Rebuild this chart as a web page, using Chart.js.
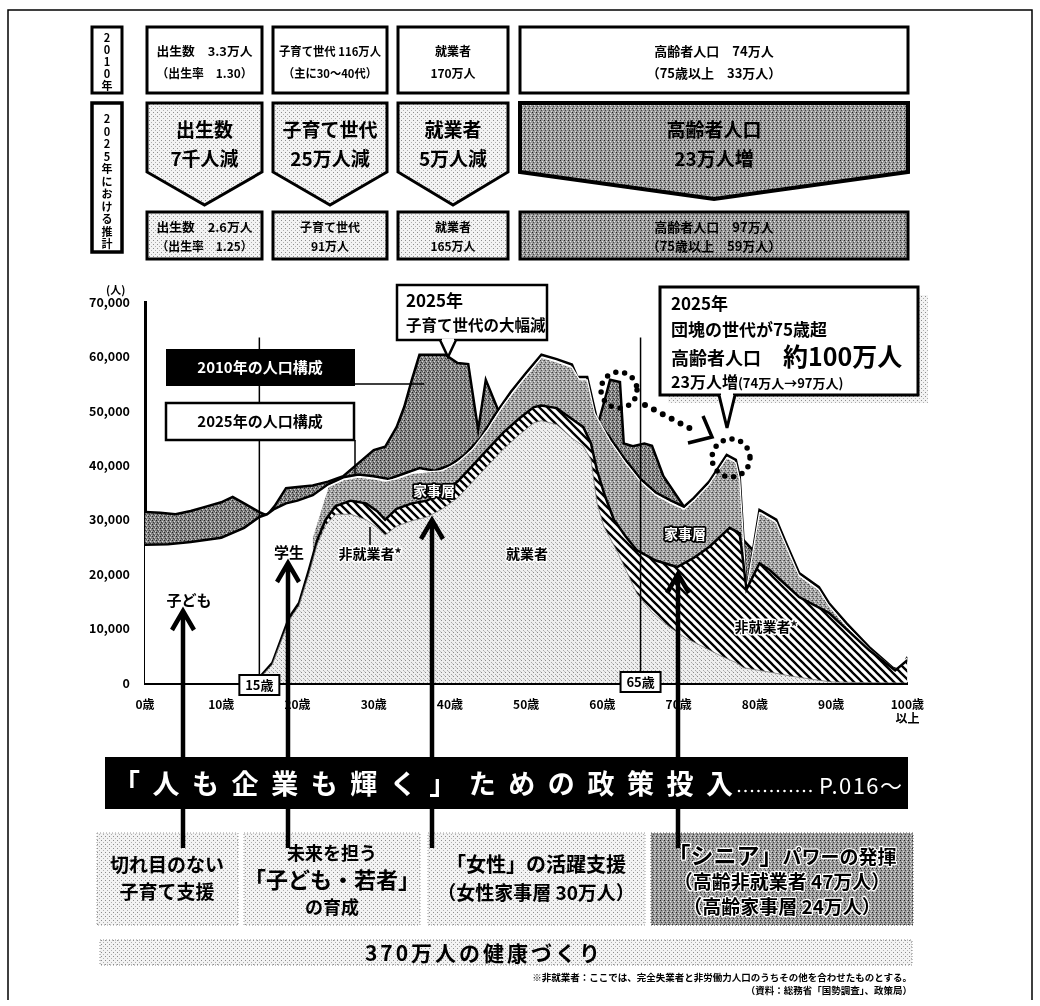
<!DOCTYPE html>
<html>
<head>
<meta charset="utf-8">
<script src="https://cdn.jsdelivr.net/npm/chart.js@4.4.0/dist/chart.umd.min.js"></script>
<style>
body { margin: 0; background: #fff; }
#page { position: relative; width: 1040px; height: 1006px; overflow: hidden; font-family: "Noto Sans CJK JP", sans-serif; }
#wrap { position: absolute; left: 60px; top: 280px; width: 870px; height: 445px; }
#ov { position: absolute; left: 0; top: 0; }
#ov text { font-family: "Noto Sans CJK JP", sans-serif; font-weight: bold; }
</style>
</head>
<body>
<div id="page">
<div id="wrap"><canvas id="pyramid"></canvas></div>
<svg id="ov" width="1040" height="1006">
  <defs>
    <pattern id="pLight" width="4" height="4" patternUnits="userSpaceOnUse">
      <rect width="4" height="4" fill="#f3f3f3"/>
      <rect x="1" y="0" width="1" height="1" fill="#8c8c8c"/>
      <rect x="3" y="2" width="1" height="1" fill="#b0b0b0"/>
    </pattern>
    <pattern id="pDark" width="4" height="4" patternUnits="userSpaceOnUse">
      <rect width="4" height="4" fill="#9a9a9a"/>
      <rect x="0" y="0" width="1" height="1" fill="#222"/>
      <rect x="2" y="1" width="1" height="1" fill="#e8e8e8"/>
      <rect x="1" y="2" width="1" height="1" fill="#444"/>
      <rect x="3" y="3" width="1" height="1" fill="#dadada"/>
    </pattern>
  </defs>

  <!-- frame -->
  <path d="M8 1000 V10 H1032 V1000" fill="none" stroke="#000" stroke-width="1.5"/>

  <!-- side labels -->
  <rect x="92" y="27" width="30" height="66" fill="#fff" stroke="#000" stroke-width="3"/>
  <text font-size="11" text-anchor="middle">
    <tspan x="107" y="42">2</tspan><tspan x="107" y="54">0</tspan><tspan x="107" y="66">1</tspan><tspan x="107" y="78">0</tspan><tspan x="107" y="90">年</tspan>
  </text>
  <rect x="92" y="103" width="30" height="149" fill="#fff" stroke="#000" stroke-width="3.5"/>
  <text font-size="11" text-anchor="middle">
    <tspan x="107" y="123">2</tspan><tspan x="107" y="135.5">0</tspan><tspan x="107" y="148">2</tspan><tspan x="107" y="160.5">5</tspan><tspan x="107" y="173">年</tspan><tspan x="107" y="185.5">に</tspan><tspan x="107" y="198">お</tspan><tspan x="107" y="210.5">け</tspan><tspan x="107" y="223">る</tspan><tspan x="107" y="235.5">推</tspan><tspan x="107" y="248">計</tspan>
  </text>

  <!-- 2010 row -->
  <g fill="#fff" stroke="#000" stroke-width="3">
    <rect x="147" y="27" width="115" height="66"/>
    <rect x="273" y="27" width="114" height="66"/>
    <rect x="398" y="27" width="110" height="66"/>
    <rect x="520" y="27" width="388" height="66"/>
  </g>
  <g font-size="12" text-anchor="middle">
    <text x="204.5" y="56" textLength="96" lengthAdjust="spacingAndGlyphs">出生数　3.3万人</text><text x="204.5" y="78" textLength="96" lengthAdjust="spacingAndGlyphs">（出生率　1.30）</text>
    <text x="330" y="56" textLength="102" lengthAdjust="spacingAndGlyphs">子育て世代 116万人</text><text x="330" y="78" textLength="94" lengthAdjust="spacingAndGlyphs">（主に30〜40代）</text>
    <text x="453" y="56">就業者</text><text x="453" y="78">170万人</text>
    <text x="714" y="56" font-size="13">高齢者人口　74万人</text><text x="714" y="78" font-size="13">（75歳以上　33万人）</text>
  </g>

  <!-- change arrows -->
  <g stroke="#000" stroke-width="3" stroke-linejoin="miter">
    <polygon points="147,103 262,103 262,172 204.5,205 147,172" fill="url(#pLight)"/>
    <polygon points="273,103 387,103 387,172 330,205 273,172" fill="url(#pLight)"/>
    <polygon points="398,103 508,103 508,172 453,205 398,172" fill="url(#pLight)"/>
    <polygon points="520,103 908,103 908,172 714,199 520,172" fill="url(#pDark)" stroke-width="4"/>
  </g>
  <g font-size="19" text-anchor="middle">
    <text x="204.5" y="137">出生数</text><text x="204.5" y="166">7千人減</text>
    <text x="330" y="137">子育て世代</text><text x="330" y="166">25万人減</text>
    <text x="453" y="137">就業者</text><text x="453" y="166">5万人減</text>
    <text x="714" y="137">高齢者人口</text><text x="714" y="166">23万人増</text>
  </g>

  <!-- 2025 row -->
  <g stroke="#000" stroke-width="3">
    <rect x="147" y="212" width="115" height="47" fill="url(#pLight)"/>
    <rect x="273" y="212" width="114" height="47" fill="url(#pLight)"/>
    <rect x="398" y="212" width="110" height="47" fill="url(#pLight)"/>
    <rect x="520" y="212" width="388" height="47" fill="url(#pDark)"/>
  </g>
  <g font-size="12" text-anchor="middle">
    <text x="204.5" y="232" textLength="96" lengthAdjust="spacingAndGlyphs">出生数　2.6万人</text><text x="204.5" y="251" textLength="96" lengthAdjust="spacingAndGlyphs">（出生率　1.25）</text>
    <text x="330" y="232">子育て世代</text><text x="330" y="251">91万人</text>
    <text x="453" y="232">就業者</text><text x="453" y="251">165万人</text>
    <text x="714" y="232" font-size="13">高齢者人口　97万人</text><text x="714" y="251" font-size="13">（75歳以上　59万人）</text>
  </g>

  <!-- axis unit -->
  <text x="106" y="294" font-size="11">(人)</text>

  <!-- legend boxes -->
  <path d="M355 384 H424 M355 440 V474" stroke="#000" stroke-width="1.5" fill="none"/>
  <rect x="166" y="349" width="189" height="37" fill="#000"/>
  <text x="260" y="373" font-size="15" fill="#fff" text-anchor="middle">2010年の人口構成</text>
  <rect x="166" y="403" width="188" height="37" fill="#fff" stroke="#000" stroke-width="2.5"/>
  <text x="260" y="427" font-size="15" text-anchor="middle">2025年の人口構成</text>

  <!-- callout: child-rearing generation -->
  <rect x="397" y="285" width="150" height="55" fill="#fff" stroke="#000" stroke-width="2.5"/>
  <path d="M440 340 L448 357 L456 340" fill="#fff" stroke="#000" stroke-width="2.5"/>
  <path d="M442 340 H454" stroke="#fff" stroke-width="3"/>
  <text x="406" y="307" font-size="17">2025年</text>
  <text x="406" y="331" font-size="15.5">子育て世代の大幅減</text>

  <!-- callout: baby boomers -->
  <rect x="668" y="295" width="260" height="108" fill="url(#pLight)"/>
  <rect x="660" y="287" width="258" height="108" fill="#fff" stroke="#000" stroke-width="3"/>
  <path d="M719 395 L727 428 L735 395" fill="#fff" stroke="#000" stroke-width="3"/>
  <path d="M721 395 H733" stroke="#fff" stroke-width="4"/>
  <text x="671" y="310" font-size="17">2025年</text>
  <text x="671" y="336" font-size="17">団塊の世代が75歳超</text>
  <text x="671" y="365" font-size="18">高齢者人口</text>
  <text x="783" y="366" font-size="25">約100万人</text>
  <text x="671" y="388" font-size="16">23万人増<tspan font-size="13">(74万人→97万人)</tspan></text>

  <!-- dotted highlights -->
  <g fill="none" stroke="#000" stroke-linecap="round">
    <circle cx="619" cy="390" r="18" stroke-width="5.5" stroke-dasharray="0 9"/>
    <circle cx="731" cy="458" r="19" stroke-width="5.5" stroke-dasharray="0 9"/>
    <path d="M645 405 L697 432" stroke-width="6" stroke-dasharray="0 10"/>
    <path d="M703 416 L712 437 L688 443" stroke-width="3.5" stroke-linecap="butt"/>
  </g>

  <!-- in-chart labels -->
  <g font-size="15" text-anchor="middle" stroke="#fff" stroke-width="3" paint-order="stroke" stroke-linejoin="round">
    <text x="189" y="606">子ども</text>
    <text x="289" y="558">学生</text>
    <text x="370" y="559" font-size="14">非就業者*</text>
    <text x="527" y="559" font-size="14">就業者</text>
    <text x="766" y="632" font-size="14">非就業者*</text>
  </g>
  <path d="M370 527 V545" stroke="#000" stroke-width="1.5"/>
  <g font-size="14" text-anchor="middle" fill="#fff" stroke="#000" stroke-width="3.5" paint-order="stroke" stroke-linejoin="round">
    <text x="434" y="496">家事層</text>
    <text x="685" y="539">家事層</text>
  </g>

  <!-- policy boxes -->
  <g stroke="#999" stroke-width="1" stroke-dasharray="1 2">
    <rect x="97" y="833" width="141" height="92" fill="url(#pLight)"/>
    <rect x="244" y="833" width="176" height="92" fill="url(#pLight)"/>
    <rect x="428" y="833" width="217" height="92" fill="url(#pLight)"/>
    <rect x="651" y="833" width="262" height="92" fill="url(#pDark)" stroke="#555"/>
  </g>

  <!-- arrows -->
  <g fill="none" stroke="#000" stroke-width="4.5">
    <path d="M183 848 V612 M172 630 L183 611 L194 630"/>
    <path d="M288 848 V564 M277 582 L288 563 L299 582"/>
    <path d="M432 848 V521 M421 539 L432 520 L443 539"/>
    <path d="M678 848 V575 M667 593 L678 574 L689 593"/>
  </g>

  <!-- banner -->
  <rect x="105" y="757" width="803" height="52" fill="#000"/>
  <text x="113" y="794" font-size="27" fill="#fff" textLength="620" lengthAdjust="spacing">「人も企業も輝く」ための政策投入</text>
  <path d="M739 791 H815" stroke="#fff" stroke-width="2.6" stroke-linecap="round" stroke-dasharray="0 6.5"/>
  <text x="819" y="794" font-size="22" fill="#fff" style="font-weight:normal" textLength="83" lengthAdjust="spacing">P.016〜</text>

  <g text-anchor="middle">
    <text x="167" y="872" font-size="19">切れ目のない</text>
    <text x="167" y="899" font-size="19">子育て支援</text>
    <text x="332" y="860" font-size="18">未来を担う</text>
    <text x="332" y="888" font-size="22">「子ども・若者」</text>
    <text x="332" y="914" font-size="18">の育成</text>
    <text x="536" y="872" font-size="20">「女性」の活躍支援</text>
    <text x="536" y="900" font-size="19">（女性家事層 30万人）</text>
  </g>
  <g text-anchor="middle" stroke="#fff" stroke-width="2.5" paint-order="stroke" stroke-linejoin="round">
    <text x="782" y="864" font-size="19"><tspan font-size="23">「シニア」</tspan>パワーの発揮</text>
    <text x="782" y="889" font-size="19">（高齢非就業者 47万人）</text>
    <text x="782" y="914" font-size="19">（高齢家事層 24万人）</text>
  </g>

  <!-- health bar -->
  <rect x="100" y="940" width="812" height="25" fill="url(#pLight)" stroke="#888" stroke-width="1" stroke-dasharray="1 2"/>
  <text x="365" y="961" font-size="21" textLength="235" lengthAdjust="spacing">370万人の健康づくり</text>

  <!-- notes -->
  <text x="912" y="981" font-size="9.5" text-anchor="end">※非就業者：ここでは、完全失業者と非労働力人口のうちその他を合わせたものとする。</text>
  <text x="912" y="994" font-size="9.5" text-anchor="end">（資料：総務省「国勢調査」、政策局）</text>
</svg>
</div>

<script>
// 年齢（歳）と人数（人）
const ageTicks = [0, 10, 20, 30, 40, 50, 60, 70, 80, 90, 100];
const ageMarks = [15, 65];

// 2010年の人口構成
const pop2010Ages = [0,2,4,6,8,10,11.5,13,15,16,17,18.5,20,22,24,26,28,30,31.5,33,34,35,36,38,39.4,41,42.4,43.7,44.7,46.3,47,50,55,58,59.3,60.3,61,62.3,62.8,64,65.5,66.5,68,70.7,72,75,78,80,85,90,95,100];
const pop2010 = [31400,31300,31000,31600,32400,33200,34200,33000,31400,30800,32500,35800,36000,36300,37000,38000,40400,42800,43400,47000,50700,55700,60300,60300,60300,58800,58600,46500,55700,50200,48000,47000,46000,46000,47000,52000,55700,55300,44000,43500,44000,43600,38000,32400,30500,29000,27000,24000,17000,10000,4000,2000];

// 2025年の人口構成
const pop2025Ages = [0,3,6,10,13,15,16,17,18.5,20,22,24,26,28,30,32,34,36,38,40,42,44,46,48,50,52,54,56,56.7,58,59.3,61,63,65,67,69,70.7,72,74,76.3,77.5,78,78.9,80.6,82.8,84,85.8,88.4,89.7,92,95,98.4,99.3,100];
const pop2025 = [25400,25500,25900,26700,28500,30500,31000,32000,33000,33500,34500,36500,37800,38300,38000,37500,38500,39500,39000,40000,42000,45000,49500,53500,57000,60300,59500,58500,56200,56200,48300,45000,41000,37500,35000,33500,32400,34000,37000,41900,41000,38000,17000,31800,30000,26000,20200,17600,14700,11000,6600,2400,2200,4800];

// 2025年 家事層（上端）
const kajiAges = [22,24,26,28,30,31.5,33,35,37,39,41,43,45,47,49,51,52,54,56,57,58,59,61,63,65,67,69,70.7,72,74,76.3,77.5,78,78.9,80.6,82.8,84,85.8,88.4,89.7,92,95,98.4,100];
const kajiTop = [27000,36000,37300,37800,37500,37100,37500,38500,38800,39000,40500,43000,46700,51000,54700,58100,59800,59000,58000,55700,55700,49500,44500,40500,37000,34500,33000,31900,33500,36500,41400,40500,37500,17200,31300,29500,25500,19700,17100,14200,10500,6200,2400,4600];

// 2025年 非就業者（上端）
const hishugyoAges = [15,16.7,18.9,20.2,21.5,22.6,23.7,25,27,29,30.5,31.5,33,35,37,39,41,43,45,47,49,51,52,54,56,57.5,58.5,59.3,60.3,61.5,63,64.5,67,69.8,72,74,76.7,78,78.9,80.6,81.9,85.8,89.7,95,98.4,100];
const hishugyoTop = [1000,3700,12000,14700,20800,26300,30000,32500,33500,33000,31500,30000,32000,33000,33500,35000,37000,40000,43000,46000,48500,50700,51000,50500,48500,47000,44000,39000,34500,30000,27000,24400,22500,21300,23000,25000,28500,27500,17200,22000,20800,15800,12900,6000,2300,4200];

// 2025年 就業者
const shugyoAges = [15,16.7,18.9,20.2,21.5,22.6,23.7,25,27,29,30.5,31.5,33,35,37,39,41,43,45,47,49,51,52,54,56,57.5,58.5,59.3,60.2,62,64.5,66.5,68.8,71,73.3,75.5,77.6,78.5,81.9,85,88.4,90,95,100];
const shugyo = [800,3400,11500,14200,20000,25500,29000,31000,31000,30000,28500,27200,28800,29800,30500,32000,34000,37000,40000,43000,45500,47800,48200,47500,45000,43500,41000,33000,28700,24000,16500,13000,10300,8200,6600,5000,3700,2800,2000,1200,500,200,50,0];

const ctx = document.getElementById('pyramid').getContext('2d');

function makePattern(base, dots) {
    const c = document.createElement('canvas');
    c.width = 4; c.height = 4;
    const g = c.getContext('2d');
    g.fillStyle = base;
    g.fillRect(0, 0, 4, 4);
    dots.forEach(function(d) {
        g.fillStyle = d[2];
        g.fillRect(d[0], d[1], 1, 1);
    });
    return ctx.createPattern(c, 'repeat');
}

function makeHatch() {
    const c = document.createElement('canvas');
    c.width = 8; c.height = 8;
    const g = c.getContext('2d');
    g.fillStyle = '#fff';
    g.fillRect(0, 0, 8, 8);
    g.strokeStyle = '#000';
    g.lineWidth = 2.3;
    g.beginPath();
    g.moveTo(-2, -2); g.lineTo(10, 10);
    g.moveTo(-2, 6); g.lineTo(2, 10);
    g.moveTo(6, -2); g.lineTo(10, 2);
    g.stroke();
    return ctx.createPattern(c, 'repeat');
}

const lightPat = makePattern('#eeeeee', [[1,0,'#8a8a8a'],[3,2,'#a8a8a8'],[0,3,'#c4c4c4']]);
const midPat = makePattern('#a6a6a6', [[0,0,'#444'],[2,1,'#e6e6e6'],[1,2,'#555'],[3,3,'#dcdcdc'],[3,0,'#777']]);
const darkPat = makePattern('#858585', [[0,0,'#222'],[2,1,'#d8d8d8'],[1,2,'#333'],[3,3,'#cfcfcf'],[2,3,'#555']]);
const hatchPat = makeHatch();

function pts(ages, vals) {
    return ages.map(function(a, i) { return { x: a, y: vals[i] }; });
}

const markerPlugin = {
    id: 'ageMarks',
    afterDatasetsDraw(chart) {
        const c = chart.ctx, x = chart.scales.x, y = chart.scales.y;
        c.save();
        c.strokeStyle = '#000';
        c.lineWidth = 1.5;
        ageMarks.forEach(function(a) {
            const px = x.getPixelForValue(a);
            c.beginPath();
            c.moveTo(px, y.getPixelForValue(63500));
            c.lineTo(px, chart.chartArea.bottom);
            c.stroke();
        });
        c.restore();
    },
    afterDraw(chart) {
        const c = chart.ctx, x = chart.scales.x, b = chart.chartArea.bottom;
        c.save();
        c.font = 'bold 13px "Noto Sans CJK JP"';
        c.textAlign = 'center';
        c.textBaseline = 'middle';
        ageMarks.forEach(function(a, i) {
            const px = x.getPixelForValue(a);
            const top = i === 0 ? b - 8 : b - 11;
            c.fillStyle = '#fff';
            c.fillRect(px - 20, top, 40, 20);
            c.strokeStyle = '#000';
            c.lineWidth = 2;
            c.strokeRect(px - 20, top, 40, 20);
            c.fillStyle = '#000';
            c.fillText(a + '歳', px, top + 10.5);
        });
        c.restore();
    }
};

new Chart(ctx, {
    type: 'line',
    data: {
        datasets: [
            { label: '就業者', data: pts(shugyoAges, shugyo), fill: 'origin', backgroundColor: lightPat, borderColor: '#777', borderWidth: 0.8 },
            { label: '非就業者', data: pts(hishugyoAges, hishugyoTop), fill: 'origin', backgroundColor: hatchPat, borderColor: '#000', borderWidth: 2.5 },
            { label: '家事層', data: pts(kajiAges, kajiTop), fill: 'origin', backgroundColor: midPat, borderColor: '#fff', borderWidth: 1.2 },
            { label: '2025年の人口構成', data: pts(pop2025Ages, pop2025), fill: 'origin', backgroundColor: '#fff', borderColor: '#000', borderWidth: 2.5 },
            { label: '2010年の人口構成', data: pts(pop2010Ages, pop2010), fill: 'origin', backgroundColor: darkPat, borderColor: '#000', borderWidth: 2.5 }
        ]
    },
    options: {
        responsive: true,
        maintainAspectRatio: false,
        animation: false,
        elements: { point: { radius: 0 }, line: { tension: 0 } },
        layout: { padding: { left: 0, right: 18, top: 22, bottom: 0 } },
        plugins: { legend: { display: false }, tooltip: { enabled: false } },
        scales: {
            x: {
                type: 'linear',
                min: 0,
                max: 100,
                afterFit: function(s) { s.height = 42; },
                afterBuildTicks: function(s) { s.ticks = ageTicks.map(function(v) { return { value: v }; }); },
                grid: { display: false },
                border: { display: true, color: '#000', width: 3 },
                ticks: {
                    autoSkip: false,
                    maxRotation: 0,
                    padding: 6,
                    color: '#000',
                    font: { family: '"Noto Sans CJK JP"', size: 12, weight: 'bold' },
                    callback: function(v) { return v === 100 ? ['100歳', '以上'] : v + '歳'; }
                }
            },
            y: {
                min: 0,
                max: 70000,
                afterFit: function(s) { s.width = 85; },
                grid: { display: false },
                border: { display: true, color: '#000', width: 3 },
                ticks: {
                    stepSize: 10000,
                    padding: 7,
                    color: '#000',
                    font: { family: '"Noto Sans CJK JP"', size: 12.5, weight: 'bold' },
                    callback: function(v) { return v.toLocaleString('en-US'); }
                }
            }
        }
    },
    plugins: [markerPlugin]
});
</script>
</body>
</html>
